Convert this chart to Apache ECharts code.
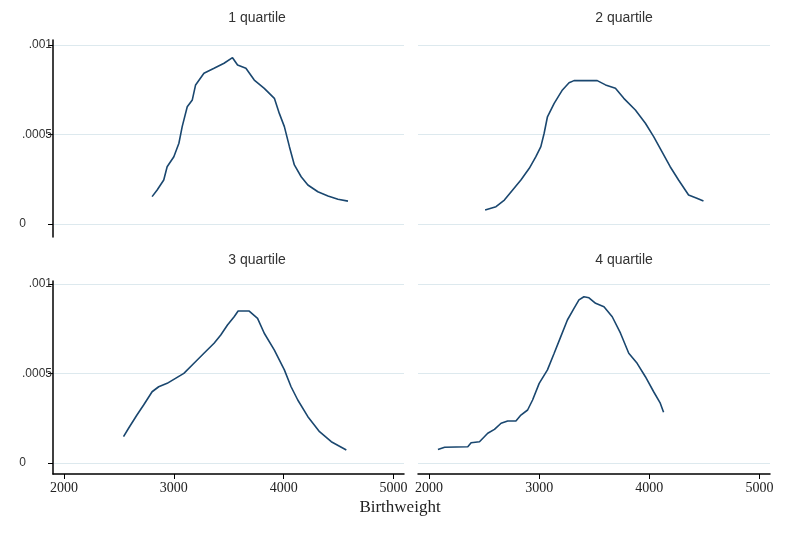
<!DOCTYPE html>
<html>
<head>
<meta charset="utf-8">
<script src="https://cdn.jsdelivr.net/npm/echarts@6/dist/echarts.min.js"></script>
<style>
  html, body { margin: 0; padding: 0; background: #fff; }
  #chart { width: 800px; height: 538px; }
</style>
</head>
<body>
<div id="chart"></div>
<script>
// panel titles
const panelTitles = ['1 quartile', '2 quartile', '3 quartile', '4 quartile'];
const xTicks = [2000, 3000, 4000, 5000];
const yTicks = [0, 0.0005, 0.001];
const yTickLabels = ['0', '.0005', '.001'];

// kernel density per quartile: [birthweight, density]
const q1 = [
  [2802, 0.000153], [2848, 0.00019], [2908, 0.000246], [2939, 0.00032], [3000, 0.000376],
  [3046, 0.000451], [3076, 0.000544], [3122, 0.000655], [3168, 0.000693], [3198, 0.000777],
  [3274, 0.000842], [3366, 0.00087], [3457, 0.000898], [3534, 0.000929], [3580, 0.000888],
  [3656, 0.00087], [3732, 0.000804], [3823, 0.000758], [3915, 0.000702], [3960, 0.000618],
  [4006, 0.000544], [4052, 0.000432], [4097, 0.00033], [4159, 0.000264], [4220, 0.000218],
  [4311, 0.00018], [4403, 0.000156], [4494, 0.000138], [4585, 0.000128]
];
const q2 = [
  [2509, 0.000078], [2608, 0.000097], [2684, 0.000134], [2759, 0.00019], [2834, 0.000246],
  [2910, 0.000311], [2970, 0.000376], [3015, 0.000432], [3045, 0.000507], [3075, 0.000599],
  [3136, 0.000674], [3211, 0.000749], [3271, 0.000789], [3316, 0.000801], [3527, 0.000801],
  [3602, 0.000777], [3692, 0.000758], [3768, 0.000702], [3873, 0.000637], [3964, 0.000563],
  [4039, 0.000488], [4114, 0.000404], [4189, 0.00032], [4265, 0.000246], [4356, 0.000162],
  [4431, 0.000144], [4491, 0.000128]
];
const q3 = [
  [2542, 0.000147], [2588, 0.000194], [2664, 0.000268], [2725, 0.000324], [2802, 0.000398],
  [2862, 0.000426], [2939, 0.000445], [3015, 0.000473], [3091, 0.000501], [3183, 0.000557],
  [3274, 0.000613], [3366, 0.000669], [3427, 0.000715], [3488, 0.000771], [3549, 0.000817],
  [3585, 0.000849], [3686, 0.000849], [3762, 0.000808], [3823, 0.000725], [3915, 0.000631],
  [4006, 0.00052], [4067, 0.000426], [4128, 0.000352], [4220, 0.000259], [4326, 0.000175],
  [4433, 0.000119], [4570, 0.000073]
];
const q4 = [
  [2081, 0.000076], [2142, 0.000088], [2352, 0.000091], [2382, 0.000113], [2458, 0.000119],
  [2533, 0.000166], [2594, 0.000188], [2654, 0.000222], [2714, 0.000235], [2789, 0.000235],
  [2834, 0.000268], [2895, 0.000296], [2940, 0.000352], [3000, 0.000445], [3075, 0.00052],
  [3136, 0.000613], [3196, 0.000706], [3256, 0.000799], [3316, 0.000864], [3361, 0.000911],
  [3406, 0.000929], [3452, 0.000923], [3512, 0.000892], [3588, 0.000873], [3663, 0.000817],
  [3738, 0.000725], [3813, 0.000613], [3889, 0.000557], [3964, 0.000482], [4039, 0.000398],
  [4099, 0.000334], [4129, 0.000283]
];
const quartiles = [q1, q2, q3, q4];

const lineColor = '#1a476f';
const gridColor = '#dde9ee';

// panel layout: top row / bottom row, left / right column
const grids = [
  { left: 53, top: 40, width: 351, height: 197 },
  { left: 418, top: 40, width: 352, height: 197 },
  { left: 53, top: 281, width: 351, height: 193 },
  { left: 418, top: 281, width: 352, height: 193 }
];
const yRanges = [
  [-0.0000726, 0.0010279], [-0.0000726, 0.0010279],
  [-0.0000615, 0.0010168], [-0.0000615, 0.0010168]
];

const xAxes = grids.map((g, i) => ({
  type: 'value',
  gridIndex: i,
  min: 1900,
  max: 5095,
  show: i >= 2,
  axisLine: { show: true, onZero: false, lineStyle: { color: '#000', width: 1.5 } },
  axisTick: { show: true, length: 5, customValues: xTicks, lineStyle: { color: '#000' } },
  axisLabel: {
    customValues: xTicks,
    margin: 7,
    color: '#222',
    fontFamily: '"Liberation Serif", serif',
    fontSize: 14,
    formatter: v => String(v)
  },
  splitLine: { show: false }
}));

const yAxes = grids.map((g, i) => {
  const left = i % 2 === 0;
  return {
    type: 'value',
    gridIndex: i,
    min: yRanges[i][0],
    max: yRanges[i][1],
    axisLine: { show: left, onZero: false, lineStyle: { color: '#000', width: 1.5 } },
    axisTick: { show: left, length: 5, customValues: yTicks, lineStyle: { color: '#000' } },
    axisLabel: {
      show: left,
      customValues: yTicks,
      margin: 1,
      color: '#333',
      fontFamily: '"Liberation Sans", Arial, sans-serif',
      fontSize: 12,
      formatter: v => {
        const k = yTicks.findIndex(t => Math.abs(t - v) < 1e-9);
        const s = k >= 0 ? yTickLabels[k] : '';
        return s === '0' ? '{z|0}' : s;
      },
      rich: { z: { padding: [0, 26, 0, 0], fontSize: 12, color: '#333' } }
    },
    splitLine: { show: true, lineStyle: { color: gridColor, width: 1 } }
  };
});

const series = quartiles.map((d, i) => ({
  type: 'line',
  xAxisIndex: i,
  yAxisIndex: i,
  data: d,
  symbol: 'none',
  smooth: false,
  lineStyle: { color: lineColor, width: 1.6 }
}));

const titlePos = [[257, 18], [624, 18], [257, 260], [624, 260]];
const graphics = panelTitles.map((t, i) => ({
  type: 'text',
  x: titlePos[i][0],
  y: titlePos[i][1],
  style: {
    text: t,
    align: 'center',
    verticalAlign: 'middle',
    fill: '#333',
    font: '14px "Liberation Sans", Arial, sans-serif'
  }
}));
graphics.push({
  type: 'text',
  x: 400,
  y: 508,
  style: {
    text: 'Birthweight',
    align: 'center',
    verticalAlign: 'middle',
    fill: '#222',
    font: '17px "Liberation Serif", serif'
  }
});

const chart = echarts.init(document.getElementById('chart'));
chart.setOption({
  animation: false,
  backgroundColor: '#fff',
  grid: grids,
  xAxis: xAxes,
  yAxis: yAxes,
  series: series,
  graphic: graphics
});
</script>
</body>
</html>
